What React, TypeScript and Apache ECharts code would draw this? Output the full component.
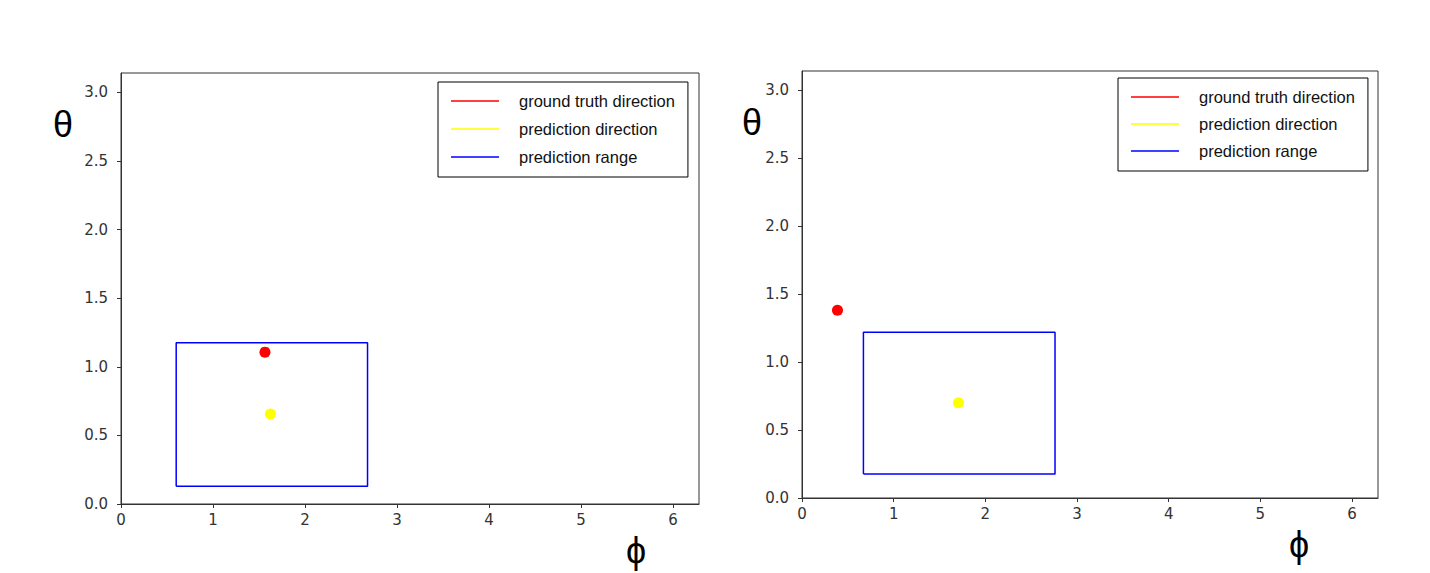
import React, { useEffect, useRef } from "react";
import * as echarts from "echarts";

const TWO_PI = 2 * Math.PI;
const PI = Math.PI;

const xTicks = [0, 1, 2, 3, 4, 5, 6];
const yTicks = [0, 0.5, 1.0, 1.5, 2.0, 2.5, 3.0];

const legendNames = ["ground truth direction", "prediction direction", "prediction range"];

// left panel
const leftRangePhi = [0.6, 2.68];
const leftRangeTheta = [0.13, 1.175];
const leftTruth = [1.565, 1.107];
const leftPred = [1.625, 0.656];

// right panel
const rightRangePhi = [0.67, 2.76];
const rightRangeTheta = [0.177, 1.22];
const rightTruth = [0.387, 1.382];
const rightPred = [1.707, 0.7];

const rectPoints = (px: number[], py: number[]) => [
  [px[0], py[0]],
  [px[1], py[0]],
  [px[1], py[1]],
  [px[0], py[1]],
  [px[0], py[0]],
];

const tickFont = { fontFamily: "DejaVu Sans", fontSize: 15, color: "#333" };

const makeX = (gridIndex: number) => ({
  type: "value",
  gridIndex,
  min: 0,
  max: TWO_PI,
  splitLine: { show: false },
  axisLine: { show: true, onZero: false, lineStyle: { color: "#333", width: 1 } },
  axisTick: { show: true, customValues: xTicks, length: 4, lineStyle: { color: "#333" } },
  axisLabel: { ...tickFont, customValues: xTicks, margin: 8, formatter: (v: number) => String(Math.round(v)) },
});

const makeY = (gridIndex: number) => ({
  type: "value",
  gridIndex,
  min: 0,
  max: PI,
  splitLine: { show: false },
  axisLine: { show: true, onZero: false, lineStyle: { color: "#333", width: 1 } },
  axisTick: { show: true, customValues: yTicks, length: 4, lineStyle: { color: "#333" } },
  axisLabel: { ...tickFont, customValues: yTicks, margin: 13, formatter: (v: number) => v.toFixed(1) },
});

const makeLegend = (left: number, top: number, gap: number) => ({
  orient: "vertical",
  left,
  top,
  backgroundColor: "#fff",
  borderColor: "#000",
  borderWidth: 1,
  padding: [10, 13, 11, 13],
  itemGap: gap,
  itemWidth: 48,
  itemHeight: 1.6,
  selectedMode: false,
  textStyle: {
    fontFamily: "Liberation Sans",
    fontSize: 16.5,
    color: "#111",
    lineHeight: 18,
    padding: [0, 0, 0, 15],
  },
  data: legendNames.map((n) => ({ name: n, icon: "rect" })),
});

const makeSeries = (
  idx: number,
  px: number[],
  py: number[],
  truth: number[],
  pred: number[]
) => [
  {
    name: legendNames[2],
    type: "line",
    xAxisIndex: idx,
    yAxisIndex: idx,
    data: rectPoints(px, py),
    showSymbol: false,
    symbol: "none",
    lineStyle: { color: "#0000ff", width: 1.5 },
    itemStyle: { color: "#0000ff" },
    z: 3,
  },
  {
    name: legendNames[0],
    type: "scatter",
    xAxisIndex: idx,
    yAxisIndex: idx,
    data: [truth],
    symbolSize: 11,
    itemStyle: { color: "#ff0000", opacity: 1 },
    z: 4,
  },
  {
    name: legendNames[1],
    type: "scatter",
    xAxisIndex: idx,
    yAxisIndex: idx,
    data: [pred],
    symbolSize: 11,
    itemStyle: { color: "#ffff00", opacity: 1 },
    z: 4,
  },
];

const bigLabel = (text: string, x: number, y: number) => ({
  type: "text",
  x,
  y,
  style: {
    text,
    fontFamily: "Liberation Sans",
    fontSize: 36,
    fill: "#000",
    align: "center",
    verticalAlign: "middle",
  },
});

export default function App() {
  const ref = useRef<HTMLDivElement>(null);
  useEffect(() => {
    if (!ref.current) return;
    const chart = echarts.init(ref.current, null, { renderer: "svg" });
    chart.setOption({
      animation: false,
      backgroundColor: "#fff",
      grid: [
        { left: 121, top: 73, width: 578, height: 431, show: true, borderColor: "#333", borderWidth: 1 },
        { left: 802, top: 71, width: 576, height: 427, show: true, borderColor: "#333", borderWidth: 1 },
      ],
      xAxis: [makeX(0), makeX(1)],
      yAxis: [makeY(0), makeY(1)],
      legend: [makeLegend(438, 82, 10), makeLegend(1118, 78, 9)],
      series: [
        ...makeSeries(0, leftRangePhi, leftRangeTheta, leftTruth, leftPred),
        ...makeSeries(1, rightRangePhi, rightRangeTheta, rightTruth, rightPred),
      ],
      graphic: [
        bigLabel("θ", 63, 124),
        bigLabel("θ", 752, 122),
        bigLabel("ϕ", 636, 550),
        bigLabel("ϕ", 1299, 544),
      ],
    });
    return () => chart.dispose();
  }, []);
  return (
    <div
      ref={ref}
      style={{ position: "absolute", left: 0, top: 0, width: 1430, height: 573 }}
    />
  );
}
